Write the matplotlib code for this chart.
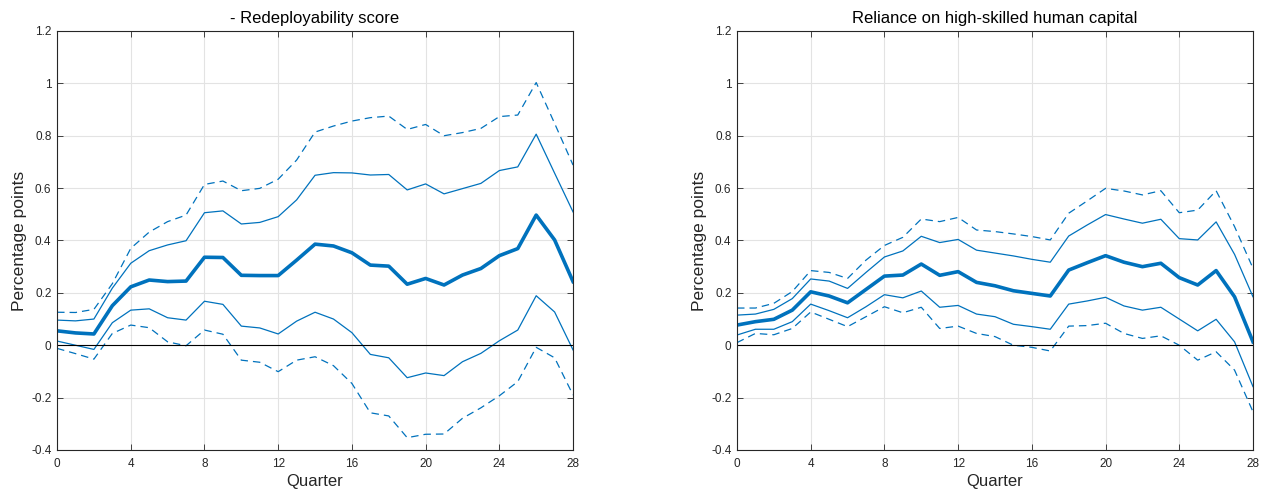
import matplotlib
matplotlib.use("Agg")
import matplotlib.pyplot as plt
import numpy as np

plt.rcParams['font.family'] = ['Liberation Sans', 'DejaVu Sans']

quarters = np.arange(0, 29)

# Panel 1: - Redeployability score
redeploy_mean = [0.055, 0.047, 0.043, 0.151, 0.223, 0.249, 0.243, 0.245, 0.336, 0.335,
                 0.267, 0.266, 0.266, 0.325, 0.386, 0.379, 0.353, 0.306, 0.302, 0.233,
                 0.255, 0.230, 0.268, 0.293, 0.342, 0.369, 0.497, 0.402, 0.243]
redeploy_hi68 = [0.096, 0.093, 0.100, 0.218, 0.313, 0.361, 0.383, 0.399, 0.506, 0.513,
                 0.463, 0.469, 0.491, 0.555, 0.649, 0.659, 0.658, 0.650, 0.652, 0.593,
                 0.616, 0.578, 0.598, 0.618, 0.667, 0.681, 0.806, 0.657, 0.509]
redeploy_lo68 = [0.016, 0.000, -0.016, 0.086, 0.134, 0.139, 0.105, 0.096, 0.168, 0.156,
                 0.073, 0.066, 0.043, 0.092, 0.126, 0.100, 0.048, -0.035, -0.048, -0.124,
                 -0.106, -0.116, -0.063, -0.031, 0.017, 0.058, 0.189, 0.127, -0.018]
redeploy_hi90 = [0.126, 0.125, 0.137, 0.235, 0.370, 0.432, 0.472, 0.497, 0.614, 0.627,
                 0.590, 0.599, 0.634, 0.707, 0.814, 0.837, 0.856, 0.869, 0.875, 0.824,
                 0.843, 0.800, 0.812, 0.828, 0.873, 0.879, 1.003, 0.847, 0.688]
redeploy_lo90 = [-0.012, -0.032, -0.053, 0.045, 0.077, 0.067, 0.013, -0.002, 0.058, 0.042,
                 -0.057, -0.065, -0.101, -0.057, -0.044, -0.078, -0.146, -0.258, -0.270, -0.353,
                 -0.340, -0.339, -0.279, -0.239, -0.193, -0.139, -0.008, -0.048, -0.190]

# Panel 2: Reliance on high-skilled human capital
skill_mean = [0.077, 0.090, 0.099, 0.134, 0.204, 0.188, 0.162, 0.213, 0.264, 0.268,
              0.310, 0.267, 0.281, 0.240, 0.227, 0.208, 0.198, 0.188, 0.287, 0.315,
              0.342, 0.317, 0.300, 0.313, 0.258, 0.230, 0.285, 0.185, 0.013]
skill_hi68 = [0.115, 0.119, 0.137, 0.178, 0.253, 0.245, 0.217, 0.278, 0.337, 0.360,
              0.416, 0.392, 0.404, 0.363, 0.352, 0.341, 0.328, 0.317, 0.417, 0.459,
              0.499, 0.482, 0.466, 0.481, 0.407, 0.402, 0.471, 0.347, 0.185]
skill_lo68 = [0.039, 0.061, 0.061, 0.090, 0.157, 0.132, 0.105, 0.147, 0.193, 0.181,
              0.207, 0.145, 0.152, 0.119, 0.109, 0.080, 0.071, 0.061, 0.157, 0.169,
              0.183, 0.150, 0.134, 0.145, 0.100, 0.055, 0.099, 0.013, -0.158]
skill_hi90 = [0.142, 0.142, 0.160, 0.205, 0.285, 0.278, 0.255, 0.325, 0.381, 0.412,
              0.482, 0.472, 0.488, 0.440, 0.434, 0.425, 0.415, 0.402, 0.504, 0.551,
              0.599, 0.589, 0.574, 0.590, 0.506, 0.516, 0.590, 0.453, 0.294]
skill_lo90 = [0.010, 0.045, 0.040, 0.064, 0.127, 0.099, 0.071, 0.109, 0.147, 0.124,
              0.145, 0.064, 0.073, 0.045, 0.033, 0.000, -0.008, -0.022, 0.073, 0.075,
              0.084, 0.045, 0.026, 0.036, 0.000, -0.057, -0.025, -0.095, -0.254]

titles = ["- Redeployability score", "Reliance on high-skilled human capital"]
xticks = [0, 4, 8, 12, 16, 20, 24, 28]
yticks = [-0.4, -0.2, 0, 0.2, 0.4, 0.6, 0.8, 1, 1.2]
ytick_labels = ["-0.4", "-0.2", "0", "0.2", "0.4", "0.6", "0.8", "1", "1.2"]

panels = [
    (redeploy_mean, redeploy_hi68, redeploy_lo68, redeploy_hi90, redeploy_lo90),
    (skill_mean, skill_hi68, skill_lo68, skill_hi90, skill_lo90),
]

blue = "#0072BD"
fig = plt.figure(figsize=(12.65, 4.94), dpi=100)
positions = [[0.0451, 0.0891, 0.4079, 0.8482], [0.5826, 0.0891, 0.4079, 0.8482]]

for pos, title, (mean, hi68, lo68, hi90, lo90) in zip(positions, titles, panels):
    ax = fig.add_axes(pos)
    ax.plot(quarters, hi90, color=blue, lw=0.9, ls=(0, (6, 4)))
    ax.plot(quarters, lo90, color=blue, lw=0.9, ls=(0, (6, 4)))
    ax.plot(quarters, hi68, color=blue, lw=0.9)
    ax.plot(quarters, lo68, color=blue, lw=0.9)
    ax.plot(quarters, mean, color=blue, lw=2.6)
    ax.axhline(0, color="black", lw=0.8)
    ax.set_xlim(0, 28)
    ax.set_ylim(-0.4, 1.2)
    ax.set_xticks(xticks)
    ax.set_yticks(yticks)
    ax.set_yticklabels(ytick_labels)
    ax.grid(True, color="#e3e3e3", lw=0.8)
    ax.set_axisbelow(True)
    ax.tick_params(direction="in", top=True, right=True, length=4, width=0.6,
                   labelsize=8.5, colors="#262626")
    ax.tick_params(axis="x", pad=6)
    ax.tick_params(axis="y", pad=4)
    for sp in ax.spines.values():
        sp.set_color("#262626")
        sp.set_linewidth(0.8)
    ax.set_title(title, fontsize=12, color="#000000", pad=6)
    ax.set_xlabel("Quarter", fontsize=12, color="#262626", labelpad=3)
    ax.set_ylabel("Percentage points", fontsize=12.5, color="#262626", labelpad=3)

fig.savefig("out.png", dpi=100)
